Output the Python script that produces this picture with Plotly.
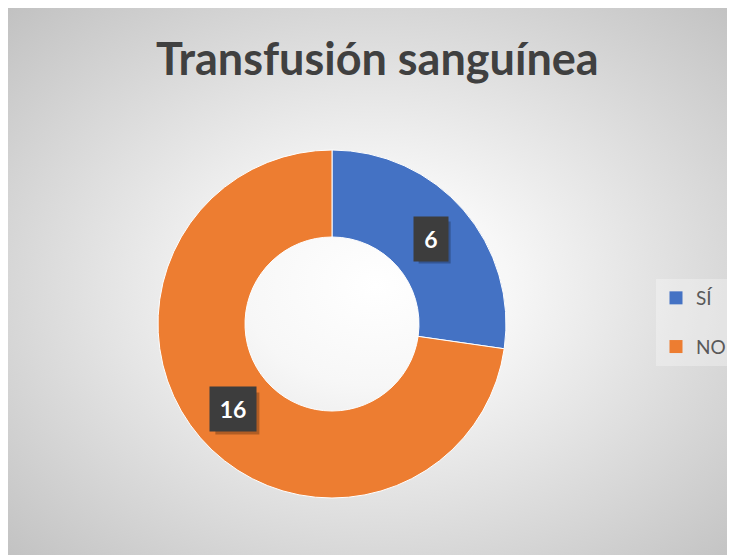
import base64
import math
import plotly.graph_objects as go

# ---- data ----
categories = ["SÍ", "NO"]
values = [6, 16]
colors = ["#4472C4", "#ED7D31"]
title_text = "Transfusión sanguínea"

W, H = 735, 555
cx, cy, R = 324, 316, 174   # pie centre / radius in figure pixels
hole = 0.5
FONT = "Lato, Calibri, sans-serif"

fig = go.Figure()
fig.add_trace(go.Pie(
    labels=categories, values=values, hole=hole, sort=False,
    direction="clockwise", rotation=0, showlegend=False,
    marker=dict(colors=colors, line=dict(color="white", width=1)),
    textinfo="none", hoverinfo="label+value",
    domain=dict(x=[(cx - R) / W, (cx + R) / W], y=[1 - (cy + R) / H, 1 - (cy - R) / H]),
))

# legend entries (one group per category so the row gap can be set)
for lab, col in zip(categories, colors):
    fig.add_trace(go.Scatter(x=[None], y=[None], mode="markers", name=lab, legendgroup=lab,
                             marker=dict(symbol="square", size=13, color=col),
                             hoverinfo="skip"))

# background radial gradient of chart area
svg = ('<svg xmlns="http://www.w3.org/2000/svg" width="735" height="555" viewBox="0 0 735 555" '
       'preserveAspectRatio="none"><defs><radialGradient id="g" cx="50%" cy="50%" r="72%">'
       '<stop offset="0" stop-color="#ffffff"/><stop offset="0.25" stop-color="#f7f7f7"/>'
       '<stop offset="1" stop-color="#c0c0c0"/></radialGradient></defs>'
       '<rect x="0" y="0" width="735" height="555" fill="url(#g)"/></svg>')
src = "data:image/svg+xml;base64," + base64.b64encode(svg.encode()).decode()
fig.add_layout_image(dict(source=src, xref="paper", yref="paper", x=0, y=1,
                          sizex=1, sizey=1, sizing="stretch", layer="below",
                          xanchor="left", yanchor="top"))

# data labels computed from the values
total = sum(values)
cum = 0
r_mid = R * (1 + hole) / 2
for v in values:
    ang = math.radians((cum + v / 2) / total * 360)
    cum += v
    px = cx + r_mid * math.sin(ang)
    py = cy - r_mid * math.cos(ang)
    w = 32 if len(str(v)) == 1 else 44
    h = 42
    # soft shadow behind the label box
    fig.add_shape(type="rect", xref="paper", yref="paper", layer="above",
                  x0=(px - w / 2 + 4) / W, x1=(px + w / 2 + 4) / W,
                  y0=1 - (py + h / 2 + 4) / H, y1=1 - (py - h / 2 + 4) / H,
                  fillcolor="rgba(0,0,0,0.25)", line=dict(width=0))
    fig.add_annotation(x=px / W, y=1 - py / H, xref="paper", yref="paper", showarrow=False,
                       xanchor="center", yanchor="middle",
                       text=f"<b>{v}</b>", width=w, height=h, align="center", valign="middle",
                       bgcolor="#3d3d3d", font=dict(family=FONT, size=23, color="white"))

fig.add_annotation(x=369 / W, y=1 - 50 / H, xref="paper", yref="paper", showarrow=False,
                   text=f"<b>{title_text}</b>", xanchor="center", yanchor="middle",
                   font=dict(family=FONT, size=45, color="#404040"))

fig.update_layout(
    width=W, height=H, margin=dict(l=0, r=0, t=0, b=0),
    paper_bgcolor="white", plot_bgcolor="rgba(0,0,0,0)",
    xaxis=dict(visible=False), yaxis=dict(visible=False),
    showlegend=True,
    legend=dict(x=648 / W, y=1 - 271 / H, xanchor="left", yanchor="top",
                bgcolor="rgba(255,255,255,0.3)", tracegroupgap=21,
                font=dict(family=FONT, size=19, color="#595959")),
)

fig.write_html("out.html")
